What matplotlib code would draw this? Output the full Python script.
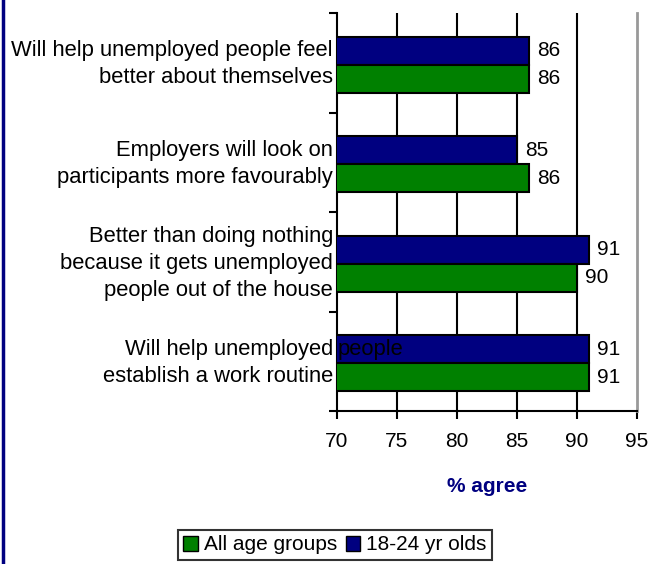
import matplotlib.pyplot as plt
from matplotlib.patches import Patch

plt.rcParams['font.family'] = ['Liberation Sans', 'DejaVu Sans']
plt.rcParams['font.size'] = 15

# Survey statements, top to bottom
statements = [
    "Will help unemployed people feel\nbetter about themselves",
    "Employers will look on\nparticipants more favourably",
    "Better than doing nothing\nbecause it gets unemployed\npeople out of the house",
    "Will help unemployed\nestablish a work routine",
]
all_ages = [86, 86, 90, 91]
young = [86, 85, 91, 91]
x_ticks = [70, 75, 80, 85, 90, 95]

navy = '#000080'
green = '#008000'
bar_h = 0.28
shift = 0.02
label_size = 15.8

fig = plt.figure(figsize=(6.51, 5.64), dpi=100)
ax = fig.add_axes([337 / 651, 153 / 564, 300 / 651, 398 / 564])

pos = list(range(len(statements)))
ax.barh([p - bar_h / 2 + shift for p in pos], young, height=bar_h, left=0,
        color=navy, edgecolor='black', linewidth=1.5, zorder=3)
ax.barh([p + bar_h / 2 + shift for p in pos], all_ages, height=bar_h, left=0,
        color=green, edgecolor='black', linewidth=1.5, zorder=3)

for p, v in zip(pos, young):
    ax.annotate(str(v), (v, p - bar_h / 2 + shift), xytext=(8, 0), textcoords='offset pixels',
                va='center', ha='left')
for p, v in zip(pos, all_ages):
    ax.annotate(str(v), (v, p + bar_h / 2 + shift), xytext=(8, 0), textcoords='offset pixels',
                va='center', ha='left')

# statement labels to the left of the axis
for p, s in zip(pos, statements):
    ax.annotate(s, (70, p), xytext=(-4, -1.5), textcoords='offset pixels',
                ha='right', va='center', multialignment='right', fontsize=label_size,
                linespacing=1.38, annotation_clip=False)
# the last label's first line runs over into the plot
ax.annotate("people", (70, 3 - bar_h / 2 + shift), xytext=(1, 0), textcoords='offset pixels',
            ha='left', va='center', fontsize=label_size, zorder=5)

ax.set_xlim(70, 95)
ax.set_ylim(3.5, -0.5)
ax.set_xticks(x_ticks)
ax.set_xticklabels([str(t) for t in x_ticks])
ax.set_yticks([-0.5, 0.5, 1.5, 2.5, 3.5])
ax.set_yticklabels([])
ax.tick_params(axis='both', direction='out', length=6, width=1.5, color='black')
ax.tick_params(axis='x', pad=9)

for t in x_ticks[1:-1]:
    ax.axvline(t, color='black', linewidth=1.5, zorder=1)

ax.spines['top'].set_visible(False)
ax.spines['right'].set_color('#999999')
ax.spines['right'].set_linewidth(2)
ax.spines['left'].set_linewidth(1.5)
ax.spines['bottom'].set_linewidth(1.5)

fig.text(487 / 651, 1 - 486 / 564, '% agree', ha='center', va='center',
         fontweight='bold', color=navy)

handles = [Patch(facecolor=green, edgecolor='black', label='All age groups'),
           Patch(facecolor=navy, edgecolor='black', label='18-24 yr olds')]
leg = fig.legend(handles=handles, loc='center', bbox_to_anchor=(335 / 651, 1 - 545 / 564),
                 ncol=2, frameon=True, fancybox=False,
                 handlelength=0.7, handleheight=0.7, handletextpad=0.3,
                 columnspacing=0.4, borderpad=0.25, borderaxespad=0)
leg.get_frame().set_edgecolor('black')
leg.get_frame().set_linewidth(1.5)

# left edge of the chart frame
fig.add_artist(plt.Line2D([2.5 / 651, 2.5 / 651], [0, 1], color=navy, linewidth=2.5,
                          transform=fig.transFigure))

fig.savefig('out.png', dpi=100)
